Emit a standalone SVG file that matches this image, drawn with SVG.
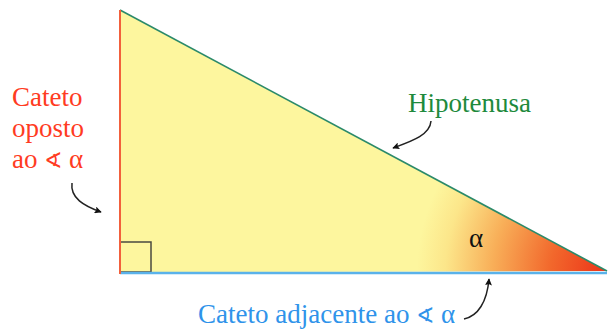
<svg xmlns="http://www.w3.org/2000/svg" width="608" height="329" viewBox="0 0 608 329">
  <defs>
    <radialGradient id="fillGrad" gradientUnits="userSpaceOnUse" cx="607" cy="272" r="190" fx="607" fy="272">
      <stop offset="0" stop-color="#ec3218"/>
      <stop offset="0.3" stop-color="#f2682c"/>
      <stop offset="0.6" stop-color="#f8ae58"/>
      <stop offset="0.85" stop-color="#fce68a"/>
      <stop offset="1" stop-color="#fdf69e"/>
    </radialGradient>
    <marker id="arr" viewBox="0 0 10 10" refX="9" refY="5" markerWidth="7" markerHeight="7" orient="auto" markerUnits="userSpaceOnUse">
      <path d="M0,0 L10,5 L0,10 L2,5 Z" fill="#111"/>
    </marker>
    <style>
      .lbl { font-family: "Liberation Serif", "DejaVu Serif", serif; font-size: 27px; }
      .ang { font-family: "DejaVu Sans", sans-serif; font-weight: 200; font-size: 22px; }
      .red { fill: #ff3b22; }
      .green { fill: #1e8a3c; }
      .blue { fill: #2f93ea; }
      .conn { fill: none; stroke: #222; stroke-width: 1.5; }
    </style>
  </defs>

  <rect width="608" height="329" fill="#ffffff"/>

  <g id="triangle">
    <polygon points="120,10 607,271 120,272" fill="#fdf69e"/>
    <polygon points="120,10 607,271 120,272" fill="url(#fillGrad)"/>
    <rect x="120" y="242" width="31" height="30" fill="none" stroke="#4a4a40" stroke-width="1.5"/>
    <line x1="120" y1="10" x2="607" y2="271" stroke="#2b8a6a" stroke-width="1.6"/>
    <line x1="120" y1="273" x2="607" y2="273" stroke="#5ab2ea" stroke-width="2.5"/>
    <line x1="120" y1="10" x2="120" y2="274" stroke="#f2603c" stroke-width="2"/>
    <text class="lbl" x="469" y="247" fill="#111">α</text>
  </g>

  <g id="cateto-oposto">
    <text class="lbl red" x="12" y="106">Cateto</text>
    <text class="lbl red" x="12" y="137">oposto</text>
    <text class="lbl red" x="12" y="168">ao <tspan class="ang">∢</tspan> α</text>
  </g>

  <g id="hipotenusa">
    <text class="lbl green" x="408" y="112">Hipotenusa</text>
  </g>

  <g id="cateto-adjacente">
    <text class="lbl blue" x="198" y="323">Cateto adjacente ao <tspan class="ang">∢</tspan> α</text>
  </g>

  <g id="connectors">
    <path class="conn" d="M72,183 C70,198 84,206 101,212" marker-end="url(#arr)"/>
    <path class="conn" d="M431,121 C430,135 412,141 393,148" marker-end="url(#arr)"/>
    <path class="conn" d="M464,319 C478,316 487,302 489,279" marker-end="url(#arr)"/>
  </g>
</svg>
